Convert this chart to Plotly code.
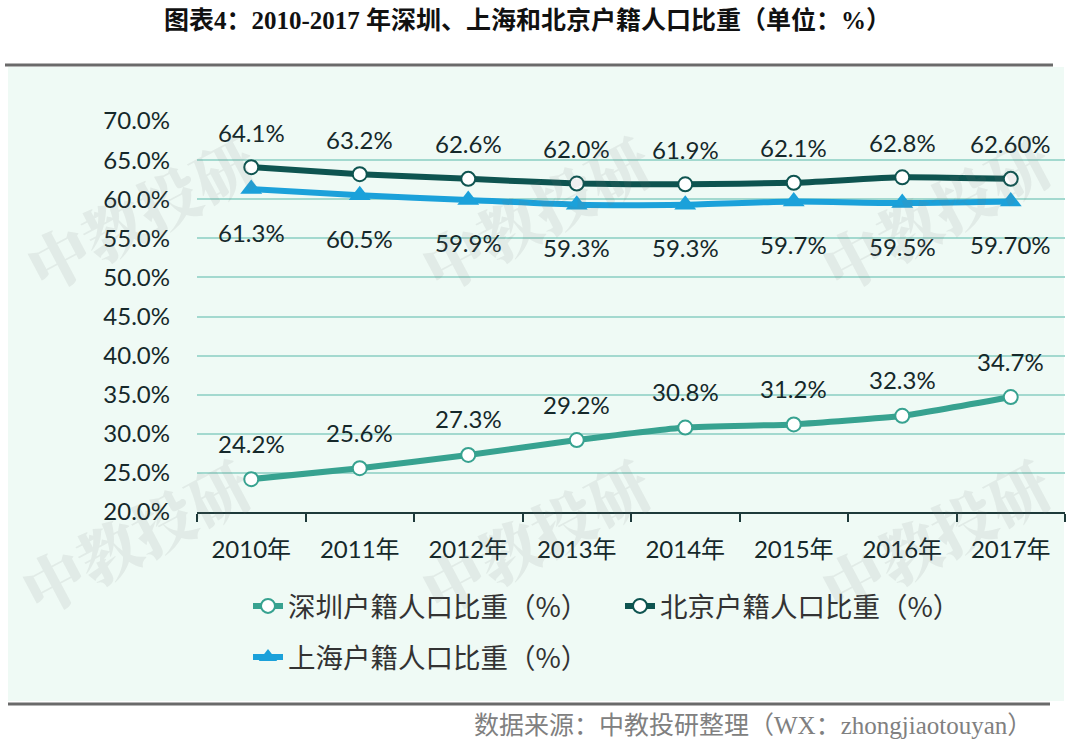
import plotly.graph_objects as go

years = ["2010年", "2011年", "2012年", "2013年", "2014年", "2015年", "2016年", "2017年"]
shenzhen = [24.2, 25.6, 27.3, 29.2, 30.8, 31.2, 32.3, 34.7]
beijing = [64.1, 63.2, 62.6, 62.0, 61.9, 62.1, 62.8, 62.6]
shanghai = [61.3, 60.5, 59.9, 59.3, 59.3, 59.7, 59.5, 59.7]
shenzhen_labels = ["24.2%", "25.6%", "27.3%", "29.2%", "30.8%", "31.2%", "32.3%", "34.7%"]
beijing_labels = ["64.1%", "63.2%", "62.6%", "62.0%", "61.9%", "62.1%", "62.8%", "62.60%"]
shanghai_labels = ["61.3%", "60.5%", "59.9%", "59.3%", "59.3%", "59.7%", "59.5%", "59.70%"]
y_ticks = [20, 25, 30, 35, 40, 45, 50, 55, 60, 65, 70]
y_tick_text = [f"{v:.1f}%" for v in y_ticks]

names = ["深圳户籍人口比重（%）", "北京户籍人口比重（%）", "上海户籍人口比重（%）"]
C_SZ = "#37a290"
C_BJ = "#0e5450"
C_SH = "#1ba1da"

W, H = 1080, 754
L, R, T, B = 197, 1065, 121, 512
NUM_FONT = "Lato, 'Noto Sans CJK SC', sans-serif"
CJK_FONT = "'Noto Sans CJK SC', sans-serif"


def px(x):
    return (x - L) / (R - L)


def py(y):
    return (B - y) / (B - T)


fig = go.Figure()
fig.add_trace(go.Scatter(
    x=years, y=shenzhen, name=names[0], mode="lines+markers",
    line=dict(color=C_SZ, width=6, shape="spline", smoothing=0.5),
    marker=dict(symbol="circle", size=14, color="white", line=dict(color=C_SZ, width=2)),
    legend="legend",
))
fig.add_trace(go.Scatter(
    x=years, y=beijing, name=names[1], mode="lines+markers",
    line=dict(color=C_BJ, width=6, shape="spline", smoothing=0.5),
    marker=dict(symbol="circle", size=14, color="white", line=dict(color=C_BJ, width=2)),
    legend="legend",
))
fig.add_trace(go.Scatter(
    x=years, y=shanghai, name=names[2], mode="lines+markers",
    line=dict(color=C_SH, width=6, shape="spline", smoothing=0.5),
    marker=dict(symbol="triangle-up", size=19, color=C_SH, line=dict(color=C_SH, width=0)),
    legend="legend2",
))

annotations = []
label_font = dict(family=NUM_FONT, size=24, color="#15282a")
for series, labels, shift in ((shenzhen, shenzhen_labels, 36), (beijing, beijing_labels, 35),
                              (shanghai, shanghai_labels, -43)):
    for xv, yv, t in zip(years, series, labels):
        annotations.append(dict(x=xv, y=yv, xref="x", yref="y", text=t, showarrow=False,
                                yshift=shift, font=label_font, xanchor="center", yanchor="middle"))

# watermarks
for cx, cy in [(140, 212), (535, 212), (935, 212), (135, 535), (535, 535), (935, 535)]:
    annotations.append(dict(x=px(cx), y=py(cy), xref="paper", yref="paper", text="中教投研",
                            showarrow=False, textangle=-28,
                            font=dict(family="'Noto Serif CJK SC', 'Noto Sans CJK SC', serif", size=62,
                                      color="rgba(120,120,120,0.11)", weight=900),
                            xanchor="center", yanchor="middle"))

# title
annotations.append(dict(x=px(527), y=py(20), xref="paper", yref="paper",
                        text="<b>图表4：2010-2017 年深圳、上海和北京户籍人口比重（单位：%）</b>",
                        showarrow=False, xanchor="center", yanchor="middle",
                        font=dict(family="'Liberation Serif', 'Noto Sans CJK SC', serif", size=25, color="#111111")))
# source
annotations.append(dict(x=px(1034), y=py(725), xref="paper", yref="paper",
                        text="数据来源：中教投研整理（WX：zhongjiaotouyan）",
                        showarrow=False, xanchor="right", yanchor="middle",
                        font=dict(family="'Liberation Serif', 'Noto Sans CJK SC', serif", size=25, color="#808080")))

shapes = [
    dict(type="rect", xref="paper", yref="paper", x0=px(8), x1=px(1064), y0=py(67), y1=py(701),
         fillcolor="#effaf5", line=dict(width=0), layer="below"),
    dict(type="line", xref="paper", yref="paper", x0=px(5), x1=px(1053), y0=py(65), y1=py(65),
         line=dict(color="#6a6a6a", width=3)),
    dict(type="line", xref="paper", yref="paper", x0=px(8), x1=px(1050), y0=py(704), y1=py(704),
         line=dict(color="#6a6a6a", width=3)),
]

fig.update_layout(
    width=W, height=H,
    margin=dict(l=L, r=W - R, t=T, b=H - B),
    paper_bgcolor="white",
    plot_bgcolor="rgba(0,0,0,0)",
    showlegend=True,
    annotations=annotations,
    shapes=shapes,
    legend=dict(orientation="h", x=px(248), y=py(606), xanchor="left", yanchor="middle",
                bgcolor="rgba(0,0,0,0)", entrywidth=327, entrywidthmode="pixels",
                font=dict(family=CJK_FONT, size=27.5, color="#333333")),
    legend2=dict(orientation="h", x=px(248), y=py(657), xanchor="left", yanchor="middle",
                 bgcolor="rgba(0,0,0,0)",
                 font=dict(family=CJK_FONT, size=27.5, color="#333333")),
    xaxis=dict(
        type="category", range=[-0.5, 7.5], showgrid=False,
        showline=True, linecolor="#1e3a3a", linewidth=2,
        ticks="outside", tickson="boundaries", ticklen=8, tickwidth=2, tickcolor="#1e3a3a",
        tickfont=dict(family=NUM_FONT, size=24, color="#15282a"),
        ticklabelstandoff=15,
    ),
    yaxis=dict(
        range=[20, 70], tickvals=y_ticks, ticktext=y_tick_text,
        showgrid=True, gridcolor="#a3d9cf", gridwidth=1.5,
        showline=False, zeroline=False, ticks="",
        tickfont=dict(family=NUM_FONT, size=24, color="#15282a"),
        ticklabelstandoff=26,
    ),
)

fig.write_html("out.html", config={"displayModeBar": False},
               post_script="document.body.style.margin='0';")
